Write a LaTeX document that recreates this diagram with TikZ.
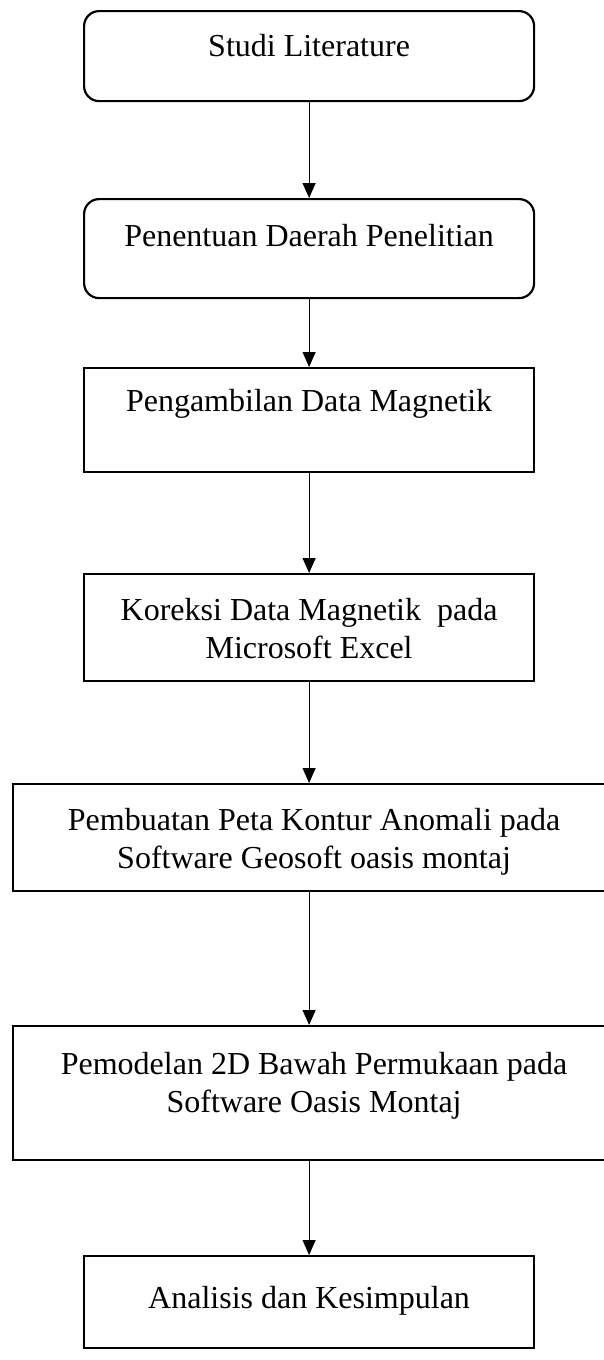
\documentclass[tikz,border=0pt]{standalone}
\usepackage{fontspec}
\setmainfont{Liberation Serif}
\usetikzlibrary{arrows.meta}

% box text: height of box, width of box, first-baseline offset, text
\newcommand\flowtext[4]{\parbox[t][#1][t]{#2}{\centering\rule{0pt}{#3}#4}}

\tikzset{
  flowbox/.style={draw, line width=2.2pt, inner sep=0pt, anchor=north west,
    font=\fontsize{32}{38}\selectfont},
  roundbox/.style={flowbox, rounded corners=15pt},
  flowarrow/.style={-{Triangle[width=13pt,length=15pt]}, line width=1.2pt},
}

\begin{document}
\begin{tikzpicture}[x=1pt, y=-1pt]
  \useasboundingbox (0,0) rectangle (604,1360);

  \node[roundbox] (s1) at (83,10)
    {\flowtext{90pt}{450pt}{45pt}{Studi Literature}};
  \node[roundbox] (s2) at (83,198)
    {\flowtext{99pt}{450pt}{47pt}{Penentuan Daerah Penelitian}};
  \node[flowbox] (s3) at (83,367)
    {\flowtext{104pt}{450pt}{43pt}{Pengambilan Data Magnetik}};
  \node[flowbox] (s4) at (83,573)
    {\flowtext{107pt}{450pt}{46pt}{Koreksi Data Magnetik\ \ pada\\Microsoft Excel}};
  \node[flowbox] (s5) at (12,783)
    {\flowtext{107pt}{602pt}{46pt}{Pembuatan Peta Kontur Anomali pada\\Software Geosoft oasis montaj}};
  \node[flowbox] (s6) at (12,1025)
    {\flowtext{134pt}{602pt}{48pt}{Pemodelan 2D Bawah Permukaan pada\\Software Oasis Montaj}};
  \node[flowbox] (s7) at (83,1255)
    {\flowtext{92pt}{450pt}{52pt}{Analisis dan Kesimpulan}};

  \draw[flowarrow] (s1.south) -- (s1.south |- s2.north);
  \draw[flowarrow] (s2.south) -- (s2.south |- s3.north);
  \draw[flowarrow] (s3.south) -- (s3.south |- s4.north);
  \draw[flowarrow] (s4.south) -- (s4.south |- s5.north);
  \draw[flowarrow] (s4.south |- s5.south) -- (s4.south |- s6.north);
  \draw[flowarrow] (s4.south |- s6.south) -- (s7.north);
\end{tikzpicture}
\end{document}
